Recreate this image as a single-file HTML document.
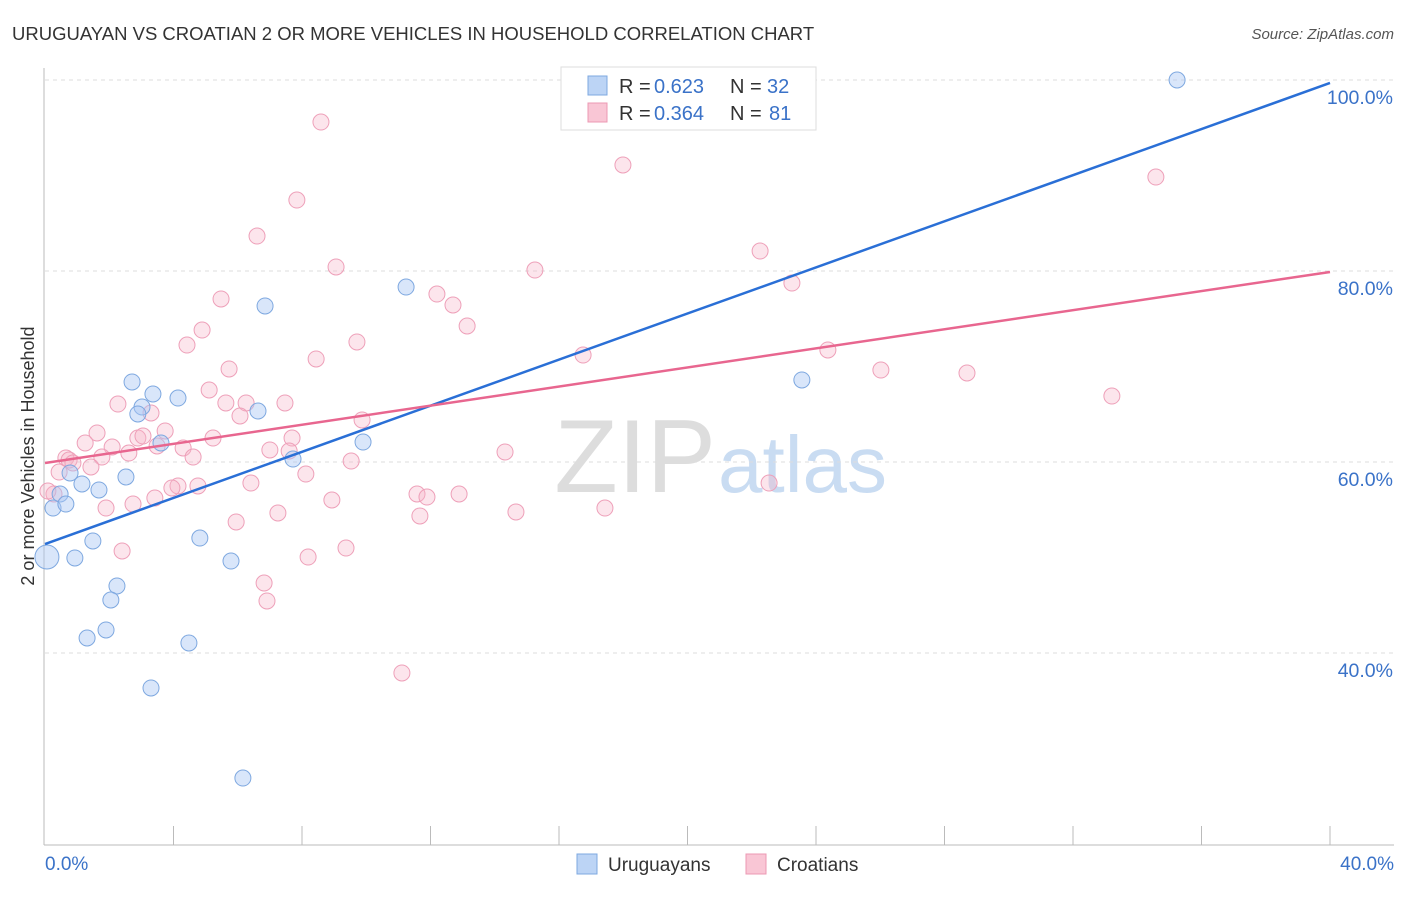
<!DOCTYPE html>
<html><head><meta charset="utf-8"><style>
body{margin:0;background:#fff;font-family:"Liberation Sans",sans-serif}
svg text{font-family:"Liberation Sans",sans-serif}
</style></head><body>
<svg id="c" width="1406" height="892">
<text x="12" y="40" font-size="18.5" fill="#333">URUGUAYAN VS CROATIAN 2 OR MORE VEHICLES IN HOUSEHOLD CORRELATION CHART</text>
<text x="1394" y="39" font-size="15" fill="#555" text-anchor="end" font-style="italic">Source: ZipAtlas.com</text>
<text x="716" y="492" font-size="104" fill="#ddd" text-anchor="end" font-family="Liberation Serif">ZIP</text>
<text x="718" y="492" font-size="80" fill="#c9dcf2">atlas</text>
<text transform="translate(34,456) rotate(-90)" font-size="18" fill="#333" text-anchor="middle">2 or more Vehicles in Household</text>
<g id="grid"></g><g id="axes"></g><g id="pts"></g><g id="lines"></g>
<g>
<rect x="561" y="67" width="255" height="63" fill="#fff" stroke="#ddd"/>
<rect x="588" y="76" width="19" height="19" fill="#bcd4f5" stroke="#7ea8e0"/>
<rect x="588" y="103" width="19" height="19" fill="#f9c6d5" stroke="#ec98b3"/>
<text x="619" y="93" font-size="20" fill="#333">R =</text>
<text x="654" y="93" font-size="20" fill="#3a72c8">0.623</text>
<text x="730" y="93" font-size="20" fill="#333">N =</text>
<text x="767" y="93" font-size="20" fill="#3a72c8">32</text>
<text x="619" y="120" font-size="20" fill="#333">R =</text>
<text x="654" y="120" font-size="20" fill="#3a72c8">0.364</text>
<text x="730" y="120" font-size="20" fill="#333">N =</text>
<text x="769" y="120" font-size="20" fill="#3a72c8">81</text>
</g>
<g>
<rect x="577" y="854" width="20" height="20" fill="#bcd4f5" stroke="#7ea8e0"/>
<text x="608" y="871" font-size="19" fill="#333">Uruguayans</text>
<rect x="746" y="854" width="20" height="20" fill="#f9c6d5" stroke="#ec98b3"/>
<text x="777" y="871" font-size="19" fill="#333">Croatians</text>
</g>
</svg>
<script>
const yTicks=[40,60,80,100];
const xTickLabels=["0.0%","40.0%"];
const blueX=[35.24,6.85,11.24,2.71,3.36,4.14,3.02,2.89,6.63,3.61,9.9,7.72,0.78,2.52,1.15,1.68,0.47,0.25,0.65,1.49,0.06,0.93,4.82,5.79,2.24,2.05,1.9,1.31,4.48,3.3,6.16,23.56];
const blueY=[100,76.34,78.32,68.38,67.12,66.7,65.76,65.03,65.34,61.99,62.09,60.31,58.85,58.43,57.7,57.07,56.65,55.18,55.6,51.73,50.05,49.95,52.04,49.63,47.02,45.55,42.41,41.57,41.05,36.34,26.91,68.59];
const pinkX=[8.59,17.99,34.58,7.84,6.6,22.26,9.06,15.25,23.25,12.2,12.7,5.48,13.14,4.89,4.42,9.71,8.44,16.75,24.37,26.02,28.7,33.21,5.73,5.11,2.27,6.26,5.63,7.47,3.3,6.07,9.87,3.74,5.23,1.62,2.89,3.05,7.69,2.09,4.3,0.65,1.25,0.75,3.49,2.61,1.77,1.43,4.61,7.6,7.0,14.32,9.53,8.12,0.87,0.44,4.14,3.95,4.76,6.41,22.54,2.74,1.9,3.42,0.28,0.09,8.93,11.58,11.89,12.89,7.25,11.67,14.66,17.43,5.95,2.4,9.37,8.19,6.82,6.91,11.11];
const pinkY=[95.6,91.1,89.84,87.43,83.66,82.09,80.42,80.1,78.74,77.59,76.44,77.07,74.24,73.82,72.25,72.57,70.79,71.2,71.73,69.63,69.32,66.91,69.74,67.54,66.07,66.18,66.18,66.18,65.13,64.82,64.4,63.25,62.51,63.04,62.51,62.72,62.51,61.57,61.47,60.42,61.99,60.21,61.68,60.94,60.52,59.48,60.52,61.15,61.26,61.05,60.1,58.74,59.9,58.95,57.49,57.28,57.49,57.8,57.8,55.6,55.18,56.23,56.65,56.96,56.02,56.65,56.33,56.65,54.66,54.35,54.77,55.18,53.72,50.68,50.99,50.05,47.33,45.45,37.91];
const blueLine=[51.41,99.69];
const pinkLine=[59.9,79.9];
const X=v=>45+v*32.125, Y=v=>80+(100-v)*9.55;
const NS="http://www.w3.org/2000/svg";
function mk(p,t,a){const e=document.createElementNS(NS,t);for(const k in a)e.setAttribute(k,a[k]);document.getElementById(p).appendChild(e);return e;}
yTicks.forEach(t=>{
 const g=mk('grid','line',{x1:45,x2:1394,y1:Y(t),y2:Y(t),stroke:'#ddd','stroke-dasharray':'4,4'});
 
 
 const l=mk('grid','text',{x:1393,y:Y(t)+24,'font-size':19.5,fill:'#3a72c8','text-anchor':'end'});l.textContent=t.toFixed(1)+'%';
 
 
});
mk('axes','line',{x1:44,x2:44,y1:68,y2:845,stroke:'#bbb'});
mk('axes','line',{x1:44,x2:1394,y1:845,y2:845,stroke:'#bbb'});
for(let i=1;i<=10;i++){const t=mk('axes','line',{x1:X(i*4),x2:X(i*4),y1:826,y2:845,stroke:'#bbb'});
 
 }
[[0,'start'],[40,'end']].forEach((d,i)=>{const t=mk('axes','text',{x:i?1394:45,y:870,'font-size':19,fill:'#3a72c8','text-anchor':d[1]});t.textContent=xTickLabels[i];
 
 });
pinkX.forEach((x,i)=>{const c=mk('pts','circle',{cx:X(x),cy:Y(pinkY[i]),r:8,fill:'rgba(246,180,200,0.35)',stroke:'#eea0b9','stroke-width':1});
 
 });
blueX.forEach((x,i)=>{const c=mk('pts','circle',{cx:X(x),cy:Y(blueY[i]),r:i==20?12:8,fill:'rgba(170,200,245,0.45)',stroke:'#7ea8e0','stroke-width':1});
 
 });
const b=mk('lines','line',{x1:X(0),x2:X(40),y1:Y(blueLine[0]),y2:Y(blueLine[1]),stroke:'#2a6fd6','stroke-width':2.5});


const p=mk('lines','line',{x1:X(0),x2:X(40),y1:Y(pinkLine[0]),y2:Y(pinkLine[1]),stroke:'#e8668f','stroke-width':2.5});


</script>
</body></html>
